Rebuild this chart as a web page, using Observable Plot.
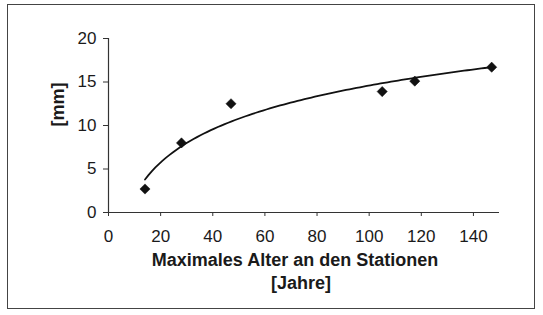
<!DOCTYPE html>
<html>
<head>
<meta charset="utf-8">
<script src="https://cdn.jsdelivr.net/npm/d3@7"></script>
<script src="https://cdn.jsdelivr.net/npm/@observablehq/plot@0.6"></script>
<style>
  html, body { margin: 0; padding: 0; background: #ffffff; }
  #wrap { position: relative; width: 543px; height: 315px; }
  #frame { position: absolute; left: 7px; top: 4px; width: 528px; height: 305px; border: 1.5px solid #444; box-sizing: border-box; pointer-events: none; }
  svg { font-family: "Liberation Sans", Arial, sans-serif; }
</style>
</head>
<body>
<div id="wrap"><div id="frame"></div></div>
<script>
// Data
const ages = [14, 28, 47, 105, 117.5, 147];       // Maximales Alter an den Stationen [Jahre]
const values = [2.7, 8, 12.5, 13.9, 15.1, 16.7];  // [mm]
const xTicks = [0, 20, 40, 60, 80, 100, 120, 140];
const yTicks = [0, 5, 10, 15, 20];
const xLabel1 = "Maximales Alter an den Stationen";
const xLabel2 = "[Jahre]";
const yLabel = "[mm]";

const points = ages.map((a, i) => ({x: a, y: values[i]}));

// Logarithmic trend line (least squares fit y = a*ln(x) + b) computed from the data
const lx = ages.map(Math.log);
const mx = d3.mean(lx), my = d3.mean(values);
const sxy = d3.sum(lx, (v, i) => (v - mx) * (values[i] - my));
const sxx = d3.sum(lx, v => (v - mx) ** 2);
const slope = sxy / sxx, icpt = my - slope * mx;
const [x0, x1] = d3.extent(ages);
const trend = d3.range(0, 101).map(k => {
  const x = x0 + (x1 - x0) * k / 100;
  return {x, y: slope * Math.log(x) + icpt};
});

const chart = Plot.plot({
  width: 543,
  height: 315,
  marginLeft: 108,
  marginRight: 44,
  marginTop: 38,
  marginBottom: 103,
  style: {fontFamily: "'Liberation Sans', Arial, sans-serif", background: "transparent"},
  x: {domain: [0, 150]},
  y: {domain: [0, 20]},
  marks: [
    Plot.ruleY([0], {stroke: "#333", strokeWidth: 1.2}),
    Plot.ruleX([0], {stroke: "#333", strokeWidth: 1.2}),
    Plot.axisX({ticks: xTicks, tickSize: 4, tickPadding: 13, fontSize: 17, stroke: "#333", fill: "#1a1a1a", label: null}),
    Plot.axisY({ticks: yTicks, tickSize: 5, tickPadding: 7, fontSize: 17, stroke: "#333", fill: "#1a1a1a", label: null}),
    Plot.line(trend, {x: "x", y: "y", stroke: "#111", strokeWidth: 1.8}),
    Plot.dot(points, {x: "x", y: "y", symbol: "diamond2", r: 4.6, fill: "#111", stroke: "#111", strokeWidth: 0.5}),
    Plot.text([xLabel1], {frameAnchor: "bottom", text: d => d, dy: 53, dx: -9, fontSize: 18, fontWeight: "bold", fill: "#1a1a1a"}),
    Plot.text([xLabel2], {frameAnchor: "bottom", text: d => d, dy: 76, dx: -3, fontSize: 18, fontWeight: "bold", fill: "#1a1a1a"}),
    Plot.text([yLabel], {frameAnchor: "left", text: d => d, dx: -50, dy: 1, rotate: -90, fontSize: 18, fontWeight: "bold", fill: "#1a1a1a"})
  ]
});

document.getElementById("wrap").prepend(chart);
</script>
</body>
</html>
